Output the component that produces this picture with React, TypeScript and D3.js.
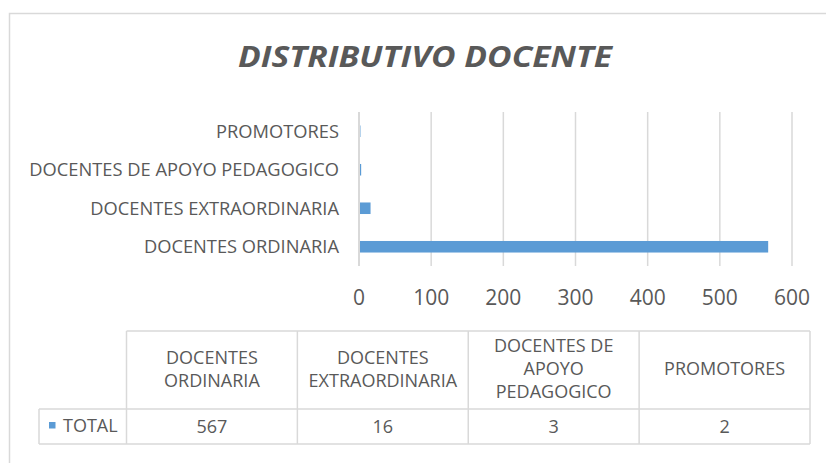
import React from "react";
import * as d3 from "d3";

const title = "DISTRIBUTIVO DOCENTE";
const categories = [
  "DOCENTES ORDINARIA",
  "DOCENTES EXTRAORDINARIA",
  "DOCENTES DE APOYO PEDAGOGICO",
  "PROMOTORES",
];
const seriesName = "TOTAL";
const values = [567, 16, 3, 2];
const xTicks = [0, 100, 200, 300, 400, 500, 600];

const W = 826;
const H = 463;
const FONT = "'Open Sans', sans-serif";
const TEXT = "#595959";
const GRID = "#d9d9d9";
const BAR = "#5b9bd5";

function measure(text: string, size: number, weight = "normal") {
  const c = document.createElement("canvas").getContext("2d");
  if (!c) return text.length * size * 0.6;
  c.font = `${weight} ${size}px 'Open Sans'`;
  return c.measureText(text).width;
}

function wrap(text: string, maxW: number, size: number) {
  const words = text.split(" ");
  const lines: string[] = [];
  let cur = "";
  for (const w of words) {
    const t = cur ? cur + " " + w : w;
    if (cur && measure(t, size) > maxW) {
      lines.push(cur);
      cur = w;
    } else cur = t;
  }
  if (cur) lines.push(cur);
  return lines;
}

export default function App() {
  const plotLeft = 359;
  const plotRight = 792;
  const plotTop = 112;
  const plotBottom = 266;

  const x = d3.scaleLinear().domain([0, 600]).range([plotLeft, plotRight]);
  const y = d3
    .scaleBand<string>()
    .domain(categories)
    .range([plotBottom, plotTop])
    .paddingInner(0.7)
    .paddingOuter(0.35);

  // table layout
  const tLeft = 39;
  const colStart = 126.5;
  const tRight = 810;
  const hTop = 331;
  const rowSep = 409;
  const tBottom = 444;
  const colW = (tRight - colStart) / categories.length;
  const fs = 18;
  const lineH = 23;

  return (
    <div style={{ position: "absolute", left: 0, top: 0 }}>
      <svg width={W} height={H} style={{ display: "block", background: "#fff" }}>
        <rect x={9.5} y={13.5} width={W + 20} height={H + 20} fill="#fff" stroke={GRID} strokeWidth={1.5} />
        <text
          x={425}
          y={67}
          textAnchor="middle"
          fontFamily={FONT}
          fontWeight="bold"
          fontStyle="italic"
          fontSize={28}
          fill={TEXT}
          textLength={374}
          lengthAdjust="spacingAndGlyphs"
        >
          {title}
        </text>

        {xTicks.map((t) => (
          <line key={"g" + t} x1={x(t)} x2={x(t)} y1={plotTop} y2={plotBottom} stroke={GRID} strokeWidth={1.5} />
        ))}

        {categories.map((c, i) => (
          <g key={c}>
            <rect
              x={x(0)}
              y={y(c)!}
              width={Math.max(0, x(values[i]) - x(0))}
              height={y.bandwidth()}
              fill={BAR}
            />
            <text
              x={339}
              y={y(c)! + y.bandwidth() / 2}
              dy="0.36em"
              textAnchor="end"
              fontFamily={FONT}
              fontSize={18.3}
              fill={TEXT}
            >
              {c}
            </text>
          </g>
        ))}
        <line x1={x(0)} x2={x(0)} y1={plotTop} y2={plotBottom} stroke={GRID} strokeWidth={2} />

        {xTicks.map((t) => (
          <text
            key={"t" + t}
            x={x(t)}
            y={297}
            dy="0.36em"
            textAnchor="middle"
            fontFamily={FONT}
            fontSize={21}
            fill={TEXT}
          >
            {t}
          </text>
        ))}

        {/* data table */}
        <g stroke={GRID} strokeWidth={1.5} fill="none">
          <line x1={colStart} x2={tRight} y1={hTop} y2={hTop} />
          <line x1={tLeft} x2={tRight} y1={rowSep} y2={rowSep} />
          <line x1={tLeft} x2={tRight} y1={tBottom} y2={tBottom} />
          <line x1={tLeft} x2={tLeft} y1={rowSep} y2={tBottom} />
          {d3.range(categories.length + 1).map((i) => (
            <line key={i} x1={colStart + i * colW} x2={colStart + i * colW} y1={hTop} y2={tBottom} />
          ))}
        </g>
        {categories.map((c, i) => {
          const lines = wrap(c, colW - 10, fs);
          const cx = colStart + (i + 0.5) * colW;
          const cy = 369;
          const y0 = cy - ((lines.length - 1) * lineH) / 2;
          return (
            <g key={"h" + c}>
              {lines.map((l, j) => (
                <text
                  key={j}
                  x={cx}
                  y={y0 + j * lineH}
                  dy="0.36em"
                  textAnchor="middle"
                  fontFamily={FONT}
                  fontSize={fs}
                  fill={TEXT}
                >
                  {l}
                </text>
              ))}
              <text
                x={cx}
                y={427}
                dy="0.36em"
                textAnchor="middle"
                fontFamily={FONT}
                fontSize={fs}
                fill={TEXT}
              >
                {values[i]}
              </text>
            </g>
          );
        })}
        <rect x={49} y={422} width={6.5} height={6.5} fill={BAR} />
        <text x={63} y={426} dy="0.36em" fontFamily={FONT} fontSize={fs} fill={TEXT}>
          {seriesName}
        </text>
      </svg>
    </div>
  );
}
